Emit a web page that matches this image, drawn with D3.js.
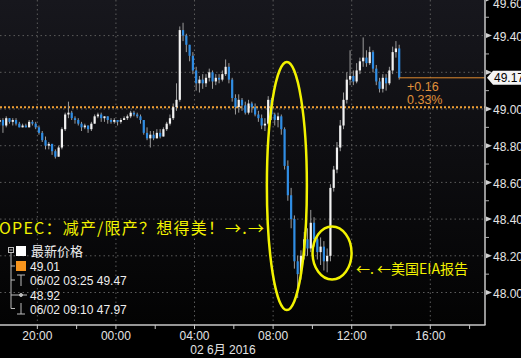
<!DOCTYPE html>
<html>
<head>
  <meta charset="utf-8">
  <title>WTI 02 6月 2016</title>
  <script src="https://cdn.jsdelivr.net/npm/d3@7"></script>
  <style>
    body { margin: 0; background: #000; }
    svg { display: block; }
  </style>
</head>
<body>
  <svg id="chart"></svg>

  <script>
    // 10分钟K线，从 06/01 18:00 开始
    const opens = [
      48.93, 48.94, 48.91, 48.95, 48.93, 48.94, 48.92, 48.90, 48.91, 48.90,
      48.93, 48.92, 48.90, 48.87, 48.83, 48.80, 48.81, 48.77, 48.74, 48.79,
      48.89, 48.97, 48.98, 48.95, 48.94, 48.92, 48.90, 48.91, 48.89, 48.92,
      48.96, 48.97, 48.95, 48.96, 48.94, 48.93, 48.94, 48.93, 48.94, 48.95,
      48.96, 48.98, 48.97, 48.96, 48.94, 48.87, 48.84, 48.86, 48.84, 48.87,
      48.85, 48.89, 48.92, 48.95, 49.01, 49.05, 49.43, 49.40, 49.35, 49.29,
      49.21, 49.14, 49.16, 49.14, 49.17, 49.20, 49.15, 49.17, 49.16, 49.19,
      49.23, 49.16, 49.06, 49.01, 49.05, 49.02, 48.98, 49.03, 49.01, 48.97,
      48.95, 48.91, 48.92, 49.05, 48.97, 48.94, 48.96, 48.89, 48.69, 48.53,
      48.40, 48.17, 48.10, 48.20, 48.29, 48.24, 48.38, 48.29, 48.22, 48.25,
      48.17, 48.20, 48.57, 48.67, 48.79, 48.91, 49.05, 49.16, 49.18, 49.15,
      49.21, 49.26, 49.28, 49.25, 49.31, 49.22, 49.15, 49.11, 49.17, 49.14,
      49.21, 49.31, 49.33
    ];
    const closes = [
      48.94, 48.91, 48.95, 48.93, 48.94, 48.92, 48.90, 48.91, 48.90, 48.93,
      48.92, 48.90, 48.87, 48.83, 48.80, 48.81, 48.77, 48.74, 48.79, 48.89,
      48.97, 48.98, 48.95, 48.94, 48.92, 48.90, 48.91, 48.89, 48.92, 48.96,
      48.97, 48.95, 48.96, 48.94, 48.93, 48.94, 48.93, 48.94, 48.95, 48.96,
      48.98, 48.97, 48.96, 48.94, 48.87, 48.84, 48.86, 48.84, 48.87, 48.85,
      48.89, 48.92, 48.95, 49.01, 49.05, 49.43, 49.40, 49.35, 49.29, 49.21,
      49.14, 49.16, 49.14, 49.17, 49.20, 49.15, 49.17, 49.16, 49.19, 49.23,
      49.16, 49.06, 49.01, 49.05, 49.02, 48.98, 49.03, 49.01, 48.97, 48.95,
      48.91, 48.92, 49.05, 48.97, 48.94, 48.96, 48.89, 48.69, 48.53, 48.40,
      48.17, 48.10, 48.20, 48.29, 48.24, 48.38, 48.29, 48.22, 48.25, 48.17,
      48.20, 48.57, 48.67, 48.79, 48.91, 49.05, 49.16, 49.18, 49.15, 49.21,
      49.26, 49.28, 49.25, 49.31, 49.22, 49.15, 49.11, 49.17, 49.14, 49.21,
      49.31, 49.33, 49.17
    ];
    const highs = [
      48.95, 48.95, 48.96, 48.95, 48.95, 48.95, 48.93, 48.92, 48.92, 48.94,
      48.94, 48.93, 48.91, 48.88, 48.85, 48.82, 48.81, 48.78, 48.80, 48.90,
      48.98, 49.04, 48.99, 48.96, 48.95, 48.93, 48.92, 48.91, 48.93, 48.97,
      48.98, 48.98, 48.96, 48.96, 48.95, 48.95, 48.94, 48.95, 48.96, 48.97,
      48.99, 48.99, 48.98, 48.97, 48.94, 48.90, 48.88, 48.88, 48.89, 48.89,
      48.90, 48.93, 48.97, 49.03, 49.14, 49.45, 49.47, 49.41, 49.35, 49.31,
      49.23, 49.18, 49.19, 49.19, 49.22, 49.21, 49.19, 49.19, 49.21, 49.27,
      49.25, 49.17, 49.08, 49.08, 49.06, 49.04, 49.05, 49.04, 49.03, 48.99,
      48.97, 48.95, 49.07, 49.06, 48.98, 48.98, 48.97, 48.90, 48.72, 48.57,
      48.42, 48.20, 48.23, 48.33, 48.35, 48.45, 48.41, 48.31, 48.30, 48.28,
      48.24, 48.59, 48.69, 48.82, 48.94, 49.09, 49.20, 49.32, 49.21, 49.25,
      49.28, 49.39, 49.32, 49.34, 49.32, 49.24, 49.17, 49.19, 49.19, 49.23,
      49.34, 49.37, 49.35
    ];
    const lows = [
      48.91, 48.87, 48.90, 48.92, 48.91, 48.91, 48.90, 48.90, 48.90, 48.90,
      48.91, 48.89, 48.86, 48.82, 48.78, 48.78, 48.75, 48.73, 48.74, 48.78,
      48.88, 48.95, 48.94, 48.92, 48.91, 48.88, 48.89, 48.87, 48.88, 48.92,
      48.95, 48.93, 48.93, 48.92, 48.92, 48.92, 48.91, 48.92, 48.94, 48.94,
      48.95, 48.96, 48.95, 48.92, 48.86, 48.83, 48.79, 48.83, 48.84, 48.84,
      48.85, 48.88, 48.91, 48.94, 48.99, 49.04, 49.37, 49.31, 49.26, 49.19,
      49.10, 49.09, 49.11, 49.12, 49.15, 49.11, 49.13, 49.14, 49.15, 49.18,
      49.14, 49.04, 48.97, 48.98, 48.99, 48.97, 48.97, 48.98, 48.96, 48.93,
      48.89, 48.88, 48.91, 48.94, 48.91, 48.90, 48.86, 48.67, 48.50, 48.35,
      48.13, 47.97, 48.07, 48.18, 48.20, 48.22, 48.25, 48.18, 48.15, 48.12,
      48.11, 48.17, 48.55, 48.65, 48.77, 48.89, 49.03, 49.13, 49.13, 49.14,
      49.19, 49.23, 49.23, 49.24, 49.20, 49.13, 49.09, 49.09, 49.10, 49.13,
      49.19, 49.28, 49.16
    ];

    const yTicks = [48.0, 48.2, 48.4, 48.6, 48.8, 49.0, 49.2, 49.4, 49.6];
    const lastPrice = 49.17;
    const prevClose = 49.01;
    const change = "+0.16";
    const changePct = "0.33%";
    const legendRows = ["最新价格", "49.01", "06/02 03:25 49.47", "48.92", "06/02 09:10 47.97"];
    const dateLabel = "02 6月 2016";
    const note1 = "OPEC：减产/限产？想得美！→.→";
    const note2 = "←. ←美国EIA报告";

    const width = 521, height = 358;
    const plotR = 485, plotB = 325;
    const startTime = new Date(2016, 5, 1, 18, 0);
    const barMs = 10 * 60 * 1000;

    const svg = d3.select("#chart")
      .attr("width", width)
      .attr("height", height)
      .style("font-family", "'Liberation Sans', Arial, sans-serif");

    const x = d3.scaleTime()
      .domain([new Date(2016, 5, 1, 18, 6), new Date(2016, 5, 2, 18, 47)])
      .range([0, plotR]);
    const y = d3.scaleLinear().domain([48, 49]).range([292.5, 109]);

    // 背景渐变
    const grad = svg.append("defs").append("linearGradient")
      .attr("id", "bg").attr("x1", 0).attr("y1", 0).attr("x2", 0).attr("y2", 1);
    grad.append("stop").attr("offset", "0%").attr("stop-color", "#17171d");
    grad.append("stop").attr("offset", "100%").attr("stop-color", "#030303");
    svg.select("defs").append("clipPath").attr("id", "plot")
      .append("rect").attr("width", plotR).attr("height", plotB);

    svg.append("rect").attr("width", width).attr("height", height).attr("fill", "#000");
    svg.append("rect").attr("width", plotR).attr("height", plotB).attr("fill", "url(#bg)");

    // 网格
    const grid = svg.append("g").attr("stroke", "#5c5c5c").attr("stroke-dasharray", "1.5,3");
    const majorX = x.ticks(d3.timeHour.every(4));
    grid.selectAll(".vx").data(majorX).enter().append("line")
      .attr("x1", d => x(d)).attr("x2", d => x(d))
      .attr("y1", 0).attr("y2", plotB);
    grid.selectAll(".hy").data(yTicks).enter().append("line")
      .attr("x1", 0).attr("x2", plotR)
      .attr("y1", d => y(d)).attr("y2", d => y(d));

    // 前收盘虚线
    svg.append("line")
      .attr("x1", 0).attr("x2", plotR)
      .attr("y1", y(prevClose)).attr("y2", y(prevClose))
      .attr("stroke", "#f0a035").attr("stroke-width", 2).attr("stroke-dasharray", "2,2");

    // K线
    const bars = svg.append("g").attr("clip-path", "url(#plot)");
    const candles = bars.selectAll(".c").data(closes).enter().append("g");
    const cx = (d, i) => x(new Date(startTime.getTime() + i * barMs + barMs / 2));
    candles.append("line")
      .attr("x1", cx).attr("x2", cx)
      .attr("y1", (d, i) => y(highs[i])).attr("y2", (d, i) => y(lows[i]))
      .attr("stroke", "#9c9c9c").attr("stroke-width", 1);
    candles.append("rect")
      .attr("x", (d, i) => cx(d, i) - 1.1)
      .attr("width", 2.2)
      .attr("y", (d, i) => y(Math.max(opens[i], d)))
      .attr("height", (d, i) => Math.max(1, Math.abs(y(opens[i]) - y(d))))
      .attr("fill", (d, i) => d >= opens[i] ? "#f2f2f2" : "#2f8de4");

    // 最新价格线
    const lastX = cx(lastPrice, closes.length - 1);
    svg.append("line")
      .attr("x1", lastX).attr("x2", plotR)
      .attr("y1", y(lastPrice)).attr("y2", y(lastPrice))
      .attr("stroke", "#e08a30").attr("stroke-width", 1);
    svg.append("text").attr("x", 407).attr("y", y(lastPrice) + 13.5)
      .attr("fill", "#e0913a").attr("font-size", 12.5).text(change);
    svg.append("text").attr("x", 407).attr("y", y(lastPrice) + 26.5)
      .attr("fill", "#e0913a").attr("font-size", 12.5).text(changePct);

    // 坐标轴框
    svg.append("line").attr("x1", 0).attr("x2", plotR + 0.5).attr("y1", plotB).attr("y2", plotB)
      .attr("stroke", "#c8c8c8").attr("stroke-width", 1.5);
    svg.append("line").attr("x1", plotR).attr("x2", plotR).attr("y1", 0).attr("y2", plotB)
      .attr("stroke", "#c8c8c8").attr("stroke-width", 1.5);

    // 右侧 Y 轴（49.20 被最新价标签挡住）
    const yAxis = svg.append("g");
    yAxis.selectAll(".tri").data(yTicks).enter().append("path")
      .attr("d", d => `M${plotR + 1},${y(d) - 2.5}L${plotR + 7},${y(d)}L${plotR + 1},${y(d) + 2.5}Z`)
      .attr("fill", "#d0d0d0");
    yAxis.selectAll(".minor").data(yTicks.slice(1)).enter().append("line")
      .attr("x1", plotR).attr("x2", plotR + 4)
      .attr("y1", d => y(d - 0.1)).attr("y2", d => y(d - 0.1))
      .attr("stroke", "#b0b0b0");
    yAxis.selectAll(".lbl").data(yTicks.filter(d => Math.abs(y(d) - y(lastPrice)) > 12)).enter().append("text")
      .attr("x", 493)
      .attr("y", d => Math.max(y(d) + 1, 4) + 4.3)
      .attr("fill", "#e4e4e4").attr("font-size", 12)
      .text(d => d.toFixed(2));

    // 最新价标签
    const ly = y(lastPrice);
    svg.append("path")
      .attr("d", `M487,${ly}L493,${ly - 7}L521,${ly - 7}L521,${ly + 7}L493,${ly + 7}Z`)
      .attr("fill", "#f4f4f4");
    svg.append("text").attr("x", 494).attr("y", ly + 4.3)
      .attr("fill", "#000").attr("font-size", 12).text(lastPrice.toFixed(2));

    // 底部 X 轴
    const xAxis = svg.append("g");
    xAxis.selectAll(".tk").data(x.ticks(d3.timeHour.every(2))).enter().append("line")
      .attr("x1", d => x(d)).attr("x2", d => x(d))
      .attr("y1", plotB).attr("y2", plotB + 4)
      .attr("stroke", "#c8c8c8");
    xAxis.selectAll(".lbl").data(majorX).enter().append("text")
      .attr("x", d => x(d)).attr("y", 339.5)
      .attr("text-anchor", "middle")
      .attr("fill", "#e4e4e4").attr("font-size", 12)
      .text(d3.timeFormat("%H:%M"));
    svg.append("text").attr("x", 223).attr("y", 353.5)
      .attr("text-anchor", "middle")
      .attr("fill", "#e4e4e4").attr("font-size", 12)
      .style("font-family", "'Liberation Sans', 'Noto Sans CJK SC', sans-serif")
      .text(dateLabel);

    // 图例
    const lg = svg.append("g").attr("stroke", "#bdbdbd").attr("fill", "none");
    lg.append("rect").attr("x", 8.5).attr("y", 247.5).attr("width", 5).attr("height", 5);
    lg.append("line").attr("x1", 9.5).attr("x2", 12.5).attr("y1", 250).attr("y2", 250);
    lg.append("path").attr("d", "M11,253V308.5H15M11,266H15M11,280H15M11,295H15");
    lg.append("line").attr("x1", 17).attr("x2", 25).attr("y1", 275).attr("y2", 275);
    lg.append("line").attr("x1", 21).attr("x2", 21).attr("y1", 275).attr("y2", 286);
    lg.append("line").attr("x1", 15).attr("x2", 27).attr("y1", 295).attr("y2", 295);
    lg.append("circle").attr("cx", 21).attr("cy", 295).attr("r", 1.5).attr("fill", "#bdbdbd");
    lg.append("line").attr("x1", 21).attr("x2", 21).attr("y1", 303).attr("y2", 314);
    lg.append("line").attr("x1", 17).attr("x2", 25).attr("y1", 314).attr("y2", 314);
    svg.append("rect").attr("x", 16).attr("y", 246).attr("width", 10).attr("height", 10).attr("fill", "#ffffff");
    svg.append("rect").attr("x", 16).attr("y", 261).attr("width", 10).attr("height", 10).attr("fill", "#f7941d");
    const rowY = [256, 270.5, 284.5, 299.5, 313.5];
    svg.selectAll(".lgt").data(legendRows).enter().append("text")
      .attr("x", (d, i) => i === 0 ? 31 : 30)
      .attr("y", (d, i) => rowY[i])
      .attr("fill", "#eeeeee")
      .attr("font-size", (d, i) => i === 0 ? 13 : 12)
      .style("font-family", "'Liberation Sans', 'Noto Sans CJK SC', sans-serif")
      .text(d => d);

    // 注释
    const yellow = "#f2f200";
    const t830 = new Date(2016, 5, 2, 8, 42);
    const t1100 = new Date(2016, 5, 2, 11, 0);
    svg.append("ellipse")
      .attr("cx", x(t830)).attr("cy", y(48.58)).attr("rx", 20).attr("ry", 124)
      .attr("fill", "none").attr("stroke", yellow).attr("stroke-width", 2.5);
    svg.append("ellipse")
      .attr("cx", x(t1100)).attr("cy", y(48.215)).attr("rx", 19.5).attr("ry", 26.5)
      .attr("fill", "none").attr("stroke", yellow).attr("stroke-width", 2.5);
    svg.append("text").attr("x", -1).attr("y", 234)
      .attr("fill", yellow).attr("font-size", 16)
      .attr("textLength", 265).attr("lengthAdjust", "spacing")
      .style("font-family", "'Noto Sans CJK SC', sans-serif")
      .text(note1);
    svg.append("text").attr("x", 356).attr("y", 274)
      .attr("fill", yellow).attr("font-size", 14)
      .attr("textLength", 112).attr("lengthAdjust", "spacing")
      .style("font-family", "'Noto Sans CJK SC', sans-serif")
      .text(note2);
  </script>
</body>
</html>
